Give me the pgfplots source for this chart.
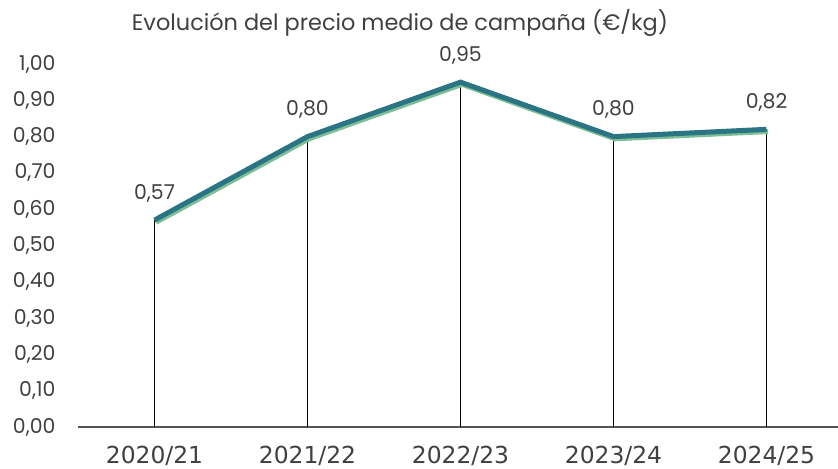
\documentclass[border=0pt]{standalone}
\usepackage{pgfplots}
\pgfplotsset{compat=1.18}
\usepackage{fontspec}
\setmainfont{Poppins}
\newfontfamily\xfont{DejaVu Sans}
\definecolor{tealline}{RGB}{42,116,132}
\definecolor{shadeline}{RGB}{125,190,150}
\definecolor{axgray}{RGB}{85,85,85}
\definecolor{txtgray}{RGB}{64,64,64}
\begin{document}
\begin{tikzpicture}
\path[use as bounding box] (-78bp,-42bp) rectangle (760bp,427bp);
\begin{axis}[
  scale only axis,
  width=765bp, height=363bp,
  xmin=-0.5, xmax=4.5, ymin=0, ymax=1,
  axis lines*=left,
  y axis line style={draw=none},
  x axis line style={draw=axgray, line width=1.4bp},
  major tick length=0,
  xtick={0,1,2,3,4},
  xticklabels={2020/21,2021/22,2022/23,2023/24,2024/25},
  ytick={0,0.1,0.2,0.3,0.4,0.5,0.6,0.7,0.8,0.9,1.0},
  /pgf/number format/.cd, use comma, fixed, fixed zerofill, precision=2, assume math mode=true,
  /pgfplots/.cd,
  yticklabel style={font=\fontsize{20.5}{24}\selectfont, text=txtgray, xshift=-19bp},
  xticklabel style={font=\xfont\fontsize{23.5}{27}\selectfont, text=txtgray, yshift=-16bp},
  clip=false,
]
\addplot[ycomb, black, line width=0.7bp, mark=none] coordinates {(0,0.57) (1,0.80) (2,0.95) (3,0.80) (4,0.82)};
\addplot[shadeline, line width=5bp, mark=none, transform canvas={xshift=1.5bp, yshift=-2.2bp}] coordinates {(0,0.57) (1,0.80) (2,0.95) (3,0.80) (4,0.82)};
\addplot[tealline, line width=5bp, mark=none,
  nodes near coords, point meta=y,
  every node near coord/.append style={font=\fontsize{20.5}{24}\selectfont, text=txtgray, yshift=12bp}]
  coordinates {(0,0.57) (1,0.80) (2,0.95) (3,0.80) (4,0.82)};
\end{axis}
\node[font=\fontsize{22.5}{26}\selectfont, text=txtgray] at (322bp,404bp) {Evolución del precio medio de campaña (€/kg)};
\end{tikzpicture}
\end{document}
